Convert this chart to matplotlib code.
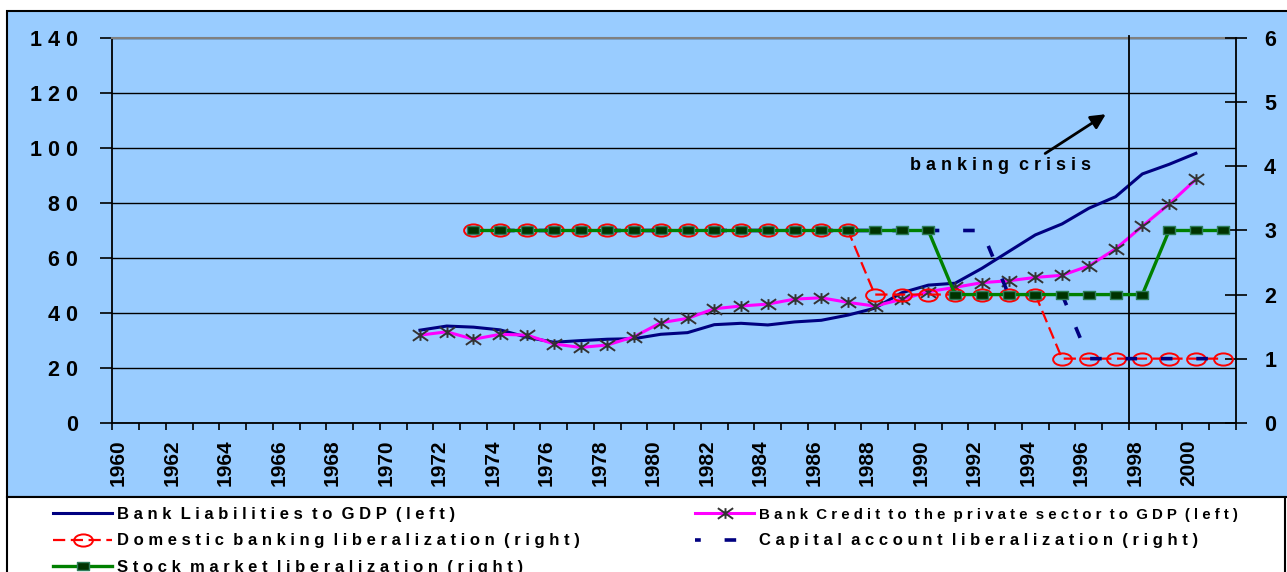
import numpy as np
import matplotlib.pyplot as plt
from matplotlib.path import Path
from matplotlib.patches import Rectangle

W, H = 1287, 572
BLUE = '#99CCFF'
FONT = 'Liberation Sans'

years = list(range(1960, 2002))
tick_years = years[::2]

liab_years = list(range(1971, 2001))
bank_liabilities = [33.7, 35.2, 34.8, 33.8, 31.1, 29.3, 29.9, 30.4, 30.6, 32.2,
                    32.8, 35.7, 36.2, 35.6, 36.7, 37.3, 39.2, 41.7, 47.3, 50.1,
                    50.8, 56.2, 62.3, 68.4, 72.4, 78.1, 82.3, 90.6, 94.1, 98.1]
bank_credit = [31.9, 33.1, 30.4, 32.2, 31.9, 28.7, 27.4, 28.3, 31.3, 36.4,
               38.0, 41.5, 42.5, 43.2, 45.0, 45.5, 43.8, 42.5, 44.9, 47.7,
               49.3, 51.0, 51.7, 52.9, 53.7, 57.1, 63.3, 71.6, 79.6, 88.6]

lib_years = list(range(1973, 2002))
domestic_lib = [3, 3, 3, 3, 3, 3, 3, 3, 3, 3, 3, 3, 3, 3, 3,
                2, 2, 2, 2, 2, 2, 2,
                1, 1, 1, 1, 1, 1, 1]
capital_lib = [3, 3, 3, 3, 3, 3, 3, 3, 3, 3, 3, 3, 3, 3, 3, 3, 3, 3, 3, 3,
               2, 2, 2,
               1, 1, 1, 1, 1, 1]
stock_lib = [3, 3, 3, 3, 3, 3, 3, 3, 3, 3, 3, 3, 3, 3, 3, 3, 3, 3,
             2, 2, 2, 2, 2, 2, 2, 2,
             3, 3, 3]

crisis_year = 1998


def spaced(s):
    return ' '.join(s).replace('   ', '  ')


def xpos(yrs):
    return np.array(yrs) - years[0] + 0.5


# squashed markers like the excel ones
circ = Path.unit_circle()
ellipse = Path(circ.vertices * [1, 0.65], circ.codes)
rect = Path([(-1, -0.65), (1, -0.65), (1, 0.65), (-1, 0.65), (-1, -0.65)],
            [Path.MOVETO, Path.LINETO, Path.LINETO, Path.LINETO, Path.CLOSEPOLY])
star = Path([(0, -0.7), (0, 0.7), (-1, -0.7), (1, 0.7), (-1, 0.7), (1, -0.7)],
            [Path.MOVETO, Path.LINETO, Path.MOVETO, Path.LINETO, Path.MOVETO, Path.LINETO])

fig = plt.figure(figsize=(W / 100, H / 100), dpi=100)
fig.add_artist(Rectangle((7 / W, 75 / H), 1.0, 486 / H, transform=fig.transFigure,
                         facecolor=BLUE, edgecolor='black', lw=1.5, zorder=-10))
fig.add_artist(Rectangle((7 / W, -0.05), 1278 / W, 75 / H + 0.05, transform=fig.transFigure,
                         facecolor='white', edgecolor='black', lw=1.5, zorder=-10))

ax = fig.add_axes([112.3 / W, 1 - 422.7 / H, 1123.7 / W, 384.4 / H])
ax.set_facecolor(BLUE)
ax.set_xlim(0, len(years))
ax.set_ylim(0, 140)

ax.plot(xpos(liab_years), bank_liabilities, color='#000080', lw=2.2, zorder=3,
        label=spaced('Bank Liabilities to GDP (left)'))
ax.plot(xpos(liab_years), bank_credit, color='#FF00FF', lw=2.2, zorder=3,
        marker=star, ms=11, mec='#333333', mfc='none', mew=1.4,
        label=spaced('Bank Credit to the private sector to GDP (left)'))

ax.set_yticks(range(0, 141, 20))
ax.set_yticklabels([spaced(str(v)) for v in range(0, 141, 20)])
ax.grid(axis='y', color='black', lw=1)
ax.set_axisbelow(True)
ax.set_xticks(range(0, len(years) + 1))
ax.set_xticklabels([])
ax.set_xticks(xpos(tick_years) - 0.28, minor=True)
ax.set_xticklabels([str(y) for y in tick_years], minor=True, rotation=90,
                   fontsize=15, fontweight='bold', family=FONT)
ax.tick_params(axis='x', which='major', direction='out', length=5, width=1.2)
ax.tick_params(axis='x', which='minor', length=0, pad=12)
ax.tick_params(axis='y', direction='out', length=8.6, width=1.2, pad=16)
for lab in ax.get_yticklabels():
    lab.set_fontsize(15.5)
    lab.set_fontweight('bold')
    lab.set_family(FONT)
for s in ['left', 'bottom']:
    ax.spines[s].set_linewidth(1.3)
ax.spines['top'].set_color('#808080')
ax.spines['top'].set_linewidth(1.5)
ax.spines['right'].set_visible(False)

ax.axvline(crisis_year - years[0], ymax=1.006, color='black', lw=1.3, clip_on=False, zorder=4)
ax.annotate('', xy=(37.22, 112.9), xytext=(34.78, 97.5),
            arrowprops=dict(arrowstyle='-|>', color='black', lw=2, mutation_scale=22))
ax.text(33.2, 93.8, spaced('banking crisis'), ha='center', va='center',
        fontsize=13, fontweight='bold', family=FONT)

ax2 = ax.twinx()
ax2.set_ylim(0, 6)
ax2.plot(xpos(lib_years), domestic_lib, color='#FF0000', lw=1.6, ls=(0, (5.5, 2.5)),
         marker=ellipse, ms=13.5, mec='#FF0000', mfc='none', mew=1.4, zorder=2,
         label=spaced('Domestic banking liberalization (right)'))
ax2.plot(xpos(lib_years), capital_lib, color='#000080', lw=2.6, ls=(1.6, (3.2, 6.6)), zorder=3,
         label=spaced('Capital account liberalization (right)'))
ax2.plot(xpos(lib_years), stock_lib, color='#008000', lw=2.4, zorder=4,
         marker=rect, ms=8.8, mec='#2E7D5B', mfc='#003300', mew=1,
         label=spaced('Stock market liberalization (right)'))
ax2.set_yticks(range(0, 7))
ax2.tick_params(axis='y', direction='inout', length=16.5, width=1.2, pad=12)
for lab in ax2.get_yticklabels():
    lab.set_fontsize(15.5)
    lab.set_fontweight('bold')
    lab.set_family(FONT)
for s in ['top', 'left', 'bottom']:
    ax2.spines[s].set_visible(False)
ax2.spines['right'].set_linewidth(1.3)

h1, l1 = ax.get_legend_handles_labels()
h2, l2 = ax2.get_legend_handles_labels()
handles = [h1[0], h2[0], h2[2], h1[1], h2[1]]
labels = [l1[0], l2[0], l2[2], l1[1], l2[1]]
leg = fig.legend(handles, labels, ncol=2, loc='upper left', bbox_to_anchor=(53 / W, 1 - 507 / H),
                 frameon=False, prop=dict(family=FONT, weight='bold', size=12),
                 handlelength=3.55, handletextpad=0.3, columnspacing=6.9, labelspacing=0.69,
                 borderpad=0, borderaxespad=0)
# the long credit label is set a bit smaller in the original
leg.get_texts()[3].set_fontsize(10.8)

fig.savefig('out.png', dpi=100)
